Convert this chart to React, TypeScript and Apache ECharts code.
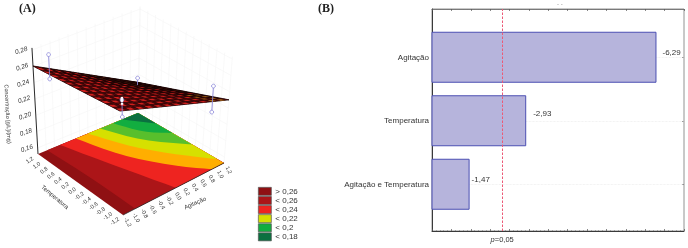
import React, { useEffect, useRef } from "react";
import * as echarts from "echarts";

// ---------- panel B data ----------
const effectNames = ["Agitação", "Temperatura", "Agitação e Temperatura"];
const effectValues = [6.29, 2.93, 1.47];
const criticalValue = 2.31;

// ---------- panel A data: model coordinates (agitação, temperatura, concentração) ----------
const agitTicks = [-1.2, -1, -0.8, -0.6, -0.4, -0.2, 0, 0.2, 0.4, 0.6, 0.8, 1, 1.2];
const tempTicks = [1.2, 1, 0.8, 0.6, 0.4, 0.2, 0, -0.2, -0.4, -0.6, -0.8, -1, -1.2];
const zTicks = [0.28, 0.26, 0.24, 0.22, 0.2, 0.18, 0.16];
// z of the fitted surface at its four corners: front, right, back, left
const surfaceCorners = [
  [-1.2, -1.2, 0.28],
  [1.2, -1.2, 0.23],
  [1.2, 1.2, 0.19],
  [-1.2, 1.2, 0.2604],
];
// observed points: agitação, temperatura, low (null when hidden by the surface), high
const whiskers = [
  [-1, 1, 0.2465, 0.2764],
  [1, 1, null, 0.2048],
  [1, -1, 0.2151, 0.247],
  [-1, -1, 0.2614, 0.2823],
];
const backWhiskerFoot = 0.1962;
const replicates = [0.2847, 0.281, 0.2774];
// contour boundaries on the floor, in (agitação, temperatura)
const contourNames = ["< 0,26", "< 0,24", "< 0,23", "< 0,22", "< 0,21", "< 0,2", "< 0,18"];
const contourColors = ["#ac1518", "#ee2420", "#ffae00", "#d6e000", "#58bf2c", "#12ad40", "#0b7040"];
const contours = [
  [[-0.98, 1.2], [-0.91, 0.02], [-0.91, -1.2]],
  [[-0.67, 1.2], [-0.29, 0.02], [0.06, -1.2]],
  [[-0.29, 1.2], [-0.02, 0.29], [0.46, -0.58], [0.91, -1.2]],
  [[0, 1.2], [0.34, 0.34], [0.84, -0.48], [1.2, -1.01]],
  [[0.29, 1.2], [0.62, 0.41], [1.2, -0.31]],
  [[0.6, 1.2], [0.82, 0.62], [1.2, 0.24]],
  [[0.82, 1.2], [1.2, 0.7]],
];
const baseName = "> 0,26";
const baseColor = "#8f1013";
const legendNames = ["> 0,26", "< 0,26", "< 0,24", "< 0,22", "< 0,2", "< 0,18"];

const LABEL = "'Liberation Sans', Arial, sans-serif";

// ---------- projection of the 3D box on the hidden pixel axes ----------
const F = [123, 215], R = [224, 163], L = [38, 154], B = [138, 113];
const leanF = -0.029, leanR = 0.079, leanB = 0.02, leanL = -0.057;
const Z0 = 0.1526, Z_PX = 816;
function project(a: number, t: number, z: number = Z0): number[] {
  const u = (a + 1.2) / 2.4, v = (t + 1.2) / 2.4;
  const bil = (f: number, r: number, b: number, l: number) =>
    f * (1 - u) * (1 - v) + r * u * (1 - v) + b * u * v + l * (1 - u) * v;
  const lift = (z - Z0) * Z_PX;
  return [
    bil(F[0], R[0], B[0], L[0]) + lift * bil(leanF, leanR, leanB, leanL),
    bil(F[1], R[1], B[1], L[1]) - lift,
  ];
}
function chaikin(pts: number[][], n: number): number[][] {
  let out = pts;
  for (let k = 0; k < n; k++) {
    const next = [out[0]];
    for (let i = 0; i < out.length - 1; i++) {
      const p = out[i], q = out[i + 1];
      next.push([0.75 * p[0] + 0.25 * q[0], 0.75 * p[1] + 0.25 * q[1]]);
      next.push([0.25 * p[0] + 0.75 * q[0], 0.25 * p[1] + 0.75 * q[1]]);
    }
    next.push(out[out.length - 1]);
    out = next;
  }
  return out;
}
const fmt = (v: number) => v.toFixed(1).replace(".", ",");

function hiddenCustom(name: string, color: string | undefined, renderItem: any, z = 2) {
  return {
    type: "custom",
    name,
    coordinateSystem: "cartesian2d",
    xAxisIndex: 0,
    yAxisIndex: 0,
    silent: true,
    z,
    itemStyle: color ? { color } : undefined,
    encode: { x: 0, y: 1 },
    data: [[100, 100]],
    renderItem,
  };
}
function polyEl(api: any, pts: number[][], style: any) {
  return { type: "polygon", shape: { points: pts.map((p) => api.coord(p)) }, style };
}
function lineEl(api: any, p: number[], q: number[], stroke: string, lineWidth = 0.6) {
  const a = api.coord(p), b = api.coord(q);
  return { type: "line", shape: { x1: a[0], y1: a[1], x2: b[0], y2: b[1] }, style: { stroke, lineWidth, fill: "none" } };
}
function textEl(api: any, p: number[], text: string, rotationDeg: number, size: number, extra: any = {}) {
  const c = api.coord(p);
  return {
    type: "text",
    x: c[0],
    y: c[1],
    rotation: (rotationDeg * Math.PI) / 180,
    style: { text, fontFamily: LABEL, fontSize: size, fill: "#333", align: "center", verticalAlign: "middle", ...extra },
  };
}

function buildOption() {
  const walls = hiddenCustom("walls", undefined, (_p: any, api: any) => {
    const wall = "#f5f5f5";
    const children: any[] = [];
    zTicks.forEach((z) => {
      children.push(lineEl(api, project(-1.2, 1.2, z), project(1.2, 1.2, z), wall));
      children.push(lineEl(api, project(1.2, 1.2, z), project(1.2, -1.2, z), wall));
    });
    agitTicks.forEach((a) => children.push(lineEl(api, project(a, 1.2), project(a, 1.2, 0.283), wall)));
    tempTicks.forEach((t) => children.push(lineEl(api, project(1.2, t), project(1.2, t, 0.283), wall)));
    return { type: "group", children };
  }, 1);

  const base = hiddenCustom(baseName, baseColor, (_p: any, api: any) =>
    polyEl(api, [project(-1.2, -1.2), project(1.2, -1.2), project(1.2, 1.2), project(-1.2, 1.2)], { fill: baseColor }), 2);

  const bands = contours.map((c, i) =>
    hiddenCustom(contourNames[i], contourColors[i], (_p: any, api: any) => {
      const line = chaikin(c, 2);
      const rim = line.concat(c[c.length - 1][1] === -1.2 ? [[1.2, -1.2], [1.2, 1.2]] : [[1.2, 1.2]]);
      return polyEl(api, rim.map((p) => project(p[0], p[1])), { fill: contourColors[i] });
    }, 3));

  const axes = hiddenCustom("axes", undefined, (_p: any, api: any) => {
    const children: any[] = [];
    const ink = "#2b2b2b";
    children.push(lineEl(api, project(-1.2, 1.2), project(-1.2, 1.2, 0.2826), ink, 1));
    children.push(lineEl(api, project(-1.2, -1.2), project(1.2, -1.2), ink, 0.8));
    zTicks.forEach((z) => {
      const p = project(-1.2, 1.2, z);
      children.push(textEl(api, [p[0] - 11, p[1]], z.toFixed(2).replace(".", ","), 18, 6.5, { fontStyle: "italic" }));
    });
    tempTicks.forEach((t) => {
      const p = project(-1.2, t);
      children.push(textEl(api, [p[0] - 8.5, p[1] + 6], fmt(t), 35, 5.6));
    });
    agitTicks.forEach((a) => {
      const p = project(a, -1.2);
      children.push(textEl(api, [p[0] + 5, p[1] + 7], fmt(a), -62, 5.6));
    });
    children.push(textEl(api, [55, 197], "Temperatura", -40, 6));
    children.push(textEl(api, [195, 203], "Agitação", 24, 6));
    children.push(textEl(api, [8, 114], "Concentração [g/L]/(mg)", -87, 5.5));
    return { type: "group", children };
  }, 4);

  const surface = hiddenCustom("surface", undefined, (_p: any, api: any) => {
    const n = 24;
    const [cF, cR, cB, cL] = surfaceCorners.map((c) => c[2]);
    const pt = (u: number, v: number) =>
      project(-1.2 + 2.4 * u, -1.2 + 2.4 * v,
        cF * (1 - u) * (1 - v) + cR * u * (1 - v) + cB * u * v + cL * (1 - u) * v);
    const children: any[] = [];
    children.push(polyEl(api, [pt(0, 0), pt(1, 0), pt(1, 1), pt(0, 1)], { fill: "#2a0607", stroke: "#150304", lineWidth: 0.7 }));
    for (let i = n - 1; i >= 0; i--) {
      for (let j = n - 1; j >= 0; j--) {
        const u0 = i / n, u1 = (i + 1) / n, v0 = j / n, v1 = (j + 1) / n;
        const s = (u0 + v0) / 2;
        const dark = s > 0.66 ? "#0e0203" : s > 0.52 ? "#2a0607" : "#560c0e";
        const hot = u0 > 0.8 && v0 < 0.32 ? "#b8741c" : s > 0.66 ? "#5a2410" : "#d0201e";
        children.push(polyEl(api, [pt(u0, v0), pt(u1, v0), pt(u1, v1), pt(u0, v1)], { fill: dark, stroke: "#1c0405", lineWidth: 0.25 }));
        if (i % 2 === 0 && j % 2 === 0) {
          children.push(polyEl(api, [
            pt(u0 + 0.1 / n, v0 + 0.1 / n), pt(u1 + 0.2 / n, v0 + 0.1 / n),
            pt(u1 + 0.2 / n, v1 + 0.2 / n), pt(u0 + 0.1 / n, v1 + 0.2 / n),
          ], { fill: hot }));
        }
      }
    }
    return { type: "group", children };
  }, 5);

  const observed = hiddenCustom("observed", undefined, (_p: any, api: any) => {
    const stroke = "#8a86d8";
    const children: any[] = [];
    whiskers.forEach(([a, t, lo, hi]) => {
      const ph = project(a as number, t as number, hi as number);
      const pl = project(a as number, t as number, (lo ?? backWhiskerFoot) as number);
      children.push(lineEl(api, pl, ph, stroke, 0.9));
      (lo === null ? [ph] : [pl, ph]).forEach((p) => {
        const c = api.coord(p);
        children.push({ type: "circle", shape: { cx: c[0], cy: c[1], r: 1.9 }, style: { fill: "#fff", stroke, lineWidth: 0.8 } });
      });
    });
    const front = whiskers[3] as number[];
    replicates.forEach((z) => {
      const c = api.coord(project(front[0], front[1], z));
      children.push({ type: "rect", shape: { x: c[0] - 1.2, y: c[1] - 1, width: 2.4, height: 2 }, style: { fill: "#fff" } });
    });
    return { type: "group", children };
  }, 6);

  const xMin = 0.5, xMax = 7;
  const hiddenX = { type: "value", min: xMin, max: xMax, interval: 0.5 };
  const tickStyle = { lineStyle: { color: "#555", width: 0.7 } };

  return {
    animation: false,
    backgroundColor: "#fff",
    legend: {
      data: legendNames,
      orient: "vertical",
      left: 258,
      top: 187,
      padding: 0,
      itemGap: 0.4,
      itemWidth: 13,
      itemHeight: 8,
      icon: "rect",
      selectedMode: false,
      itemStyle: { borderColor: "#555", borderWidth: 0.7 },
      textStyle: { fontFamily: LABEL, fontSize: 8, color: "#333", padding: [0, 0, 0, -1] },
    },
    graphic: [
      { type: "text", left: 19, top: 2, style: { text: "(A)", font: "bold 12px 'Liberation Serif', serif", fill: "#222" } },
      { type: "text", left: 318, top: 2, style: { text: "(B)", font: "bold 12px 'Liberation Serif', serif", fill: "#222" } },
      { type: "text", left: 557, top: 1, style: { text: "- -", font: "6px 'Liberation Sans', sans-serif", fill: "#999" } },
    ],
    grid: [
      { left: 0, top: 0, width: 340, height: 248, show: false },
      { left: 432, top: 9, width: 252, height: 222, show: true, borderColor: "#777", borderWidth: 0.8, backgroundColor: "transparent" },
      { left: 432, top: 25.5, width: 252, height: 190.5, show: false },
    ],
    xAxis: [
      { type: "value", gridIndex: 0, min: 0, max: 340, show: false },
      {
        ...hiddenX, gridIndex: 1, position: "bottom",
        axisLine: { show: true, onZero: false, lineStyle: { color: "#3a3a3a", width: 1 } },
        axisTick: { show: true, inside: true, length: 2, ...tickStyle },
        minorTick: { show: true, splitNumber: 5, length: 1, lineStyle: { color: "#777", width: 0.5 } },
        axisLabel: { show: false }, splitLine: { show: false },
      },
      {
        ...hiddenX, gridIndex: 1, position: "top",
        axisLine: { show: true, onZero: false, lineStyle: { color: "#666", width: 0.8 } },
        axisTick: { show: true, inside: true, length: 2, ...tickStyle },
        minorTick: { show: true, splitNumber: 5, length: 1, lineStyle: { color: "#777", width: 0.5 } },
        axisLabel: { show: false }, splitLine: { show: false },
      },
      { ...hiddenX, gridIndex: 2, show: false },
    ],
    yAxis: [
      { type: "value", gridIndex: 0, min: 0, max: 248, inverse: true, show: false },
      {
        type: "value", gridIndex: 1, min: 0, max: 1, position: "left",
        axisLine: { show: true, onZero: false, lineStyle: { color: "#3a3a3a", width: 1 } },
        axisTick: { show: false }, axisLabel: { show: false }, splitLine: { show: false },
      },
      {
        type: "category", gridIndex: 2, data: effectNames, inverse: true, position: "left",
        axisLine: { show: false },
        axisTick: { show: true, inside: true, alignWithLabel: true, length: 2, ...tickStyle },
        axisLabel: { fontFamily: LABEL, fontSize: 8, color: "#333", margin: 3 },
      },
      {
        type: "category", gridIndex: 2, data: effectNames, inverse: true, position: "right",
        axisLine: { show: false },
        axisTick: { show: true, inside: true, alignWithLabel: true, length: 2, ...tickStyle },
        axisLabel: { show: false },
      },
    ],
    series: [
      walls,
      base,
      ...bands,
      axes,
      surface,
      observed,
      {
        type: "bar",
        xAxisIndex: 3,
        yAxisIndex: 2,
        barWidth: 51,
        silent: true,
        z: 3,
        itemStyle: { color: "#b6b4dc", borderColor: "#4b4fb2", borderWidth: 1 },
        data: effectValues.map((v, i) => ({
          value: v,
          label: { offset: i === 1 ? [2, -7] : i === 2 ? [-3, -5] : [1, -5] },
        })),
        label: {
          show: true,
          position: "right",
          distance: 5,
          fontFamily: LABEL,
          fontSize: 8,
          color: "#333",
          formatter: (p: any) => "-" + p.value.toFixed(2).replace(".", ","),
        },
        markLine: {
          silent: true,
          symbol: "none",
          z: 1,
          label: { show: false },
          lineStyle: { color: "#e8e8e8", type: "dotted", width: 0.7 },
          data: effectValues.map((v, i) => [
            { xAxis: v, yAxis: effectNames[i] },
            { xAxis: xMax, yAxis: effectNames[i] },
          ]),
        },
      },
      {
        type: "line",
        xAxisIndex: 1,
        yAxisIndex: 1,
        silent: true,
        z: 6,
        showSymbol: false,
        data: [],
        markLine: {
          silent: true,
          symbol: "none",
          z: 6,
          lineStyle: { color: "#ec5a76", type: [2.5, 1.5], width: 1 },
          label: {
            show: true,
            position: "start",
            distance: 4,
            formatter: "{i|p}=0,05",
            fontFamily: LABEL,
            fontSize: 7.5,
            color: "#333",
            rich: { i: { fontStyle: "italic", fontFamily: LABEL, fontSize: 7.5, color: "#333" } },
          },
          data: [{ xAxis: criticalValue }],
        },
      },
    ],
  };
}

export default function App() {
  const ref = useRef<HTMLDivElement>(null);
  useEffect(() => {
    const chart = echarts.init(ref.current!, undefined, { renderer: "svg" });
    chart.setOption(buildOption() as any);
    return () => chart.dispose();
  }, []);
  return (
    <div
      ref={ref}
      style={{ position: "fixed", left: 0, top: 0, width: 688, height: 248, filter: "blur(0.45px)" }}
    />
  );
}
